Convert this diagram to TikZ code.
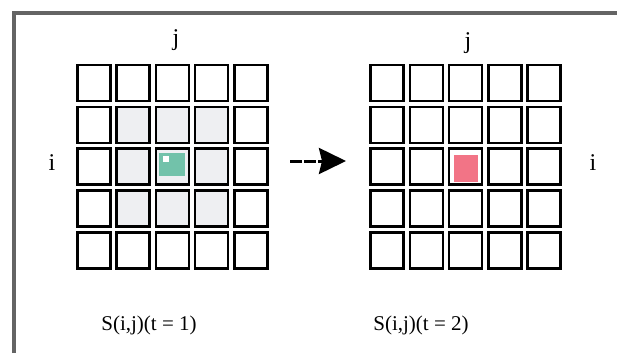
\documentclass[tikz,border=0pt]{standalone}
\usepackage{fontspec}
\setmainfont{Liberation Serif}
\usetikzlibrary{arrows.meta}
\definecolor{framegray}{HTML}{646464}
\definecolor{nbgray}{HTML}{EEEFF2}
\definecolor{tealc}{HTML}{72C2AA}
\definecolor{pinkc}{HTML}{F27486}
\tikzset{
  cell/.style={draw=black, line width=2.6pt, minimum width=33pt, minimum height=36pt, inner sep=0pt, fill=white},
  nbcell/.style={cell, fill=nbgray},
  lab/.style={font=\fontsize{24}{26}\selectfont, inner sep=0pt},
  caption/.style={font=\fontsize{21}{24}\selectfont, inner sep=0pt},
}
\begin{document}
\begin{tikzpicture}[x=1pt,y=-1pt]
\useasboundingbox (0,0) rectangle (617,353);
\fill[white] (0,0) rectangle (617,353);
% frame
\draw[framegray, line width=4pt] (13.5,353) -- (13.5,13) -- (617,13);
% left grid
\foreach \r in {1,...,5}{
  \foreach \c in {1,...,5}{
    \pgfmathsetmacro{\xx}{94+39.2*(\c-1)}
    \pgfmathsetmacro{\yy}{83+41.8*(\r-1)}
    \pgfmathtruncatemacro{\inner}{(\r>1)&&(\r<5)&&(\c>1)&&(\c<5)}
    \ifnum\inner=1
      \node[nbcell] (L\r\c) at (\xx,\yy) {};
    \else
      \node[cell] (L\r\c) at (\xx,\yy) {};
    \fi
  }
}
\fill[tealc] ([xshift=-13pt,yshift=14pt]L33.center) rectangle ([xshift=13pt,yshift=-9pt]L33.center);
\fill[white] ([xshift=-9pt,yshift=11pt]L33.center) rectangle ([xshift=-3pt,yshift=5pt]L33.center);
% right grid
\foreach \r in {1,...,5}{
  \foreach \c in {1,...,5}{
    \pgfmathsetmacro{\xx}{387+39.3*(\c-1)}
    \pgfmathsetmacro{\yy}{83+41.8*(\r-1)}
    \node[cell] (R\r\c) at (\xx,\yy) {};
  }
}
\fill[pinkc] ([xshift=-12pt,yshift=12pt]R33.center) rectangle ([xshift=12pt,yshift=-15pt]R33.center);
% labels
\node[lab] (jL) at (176,40) {j};
\node[lab] (jR) at (468,43) {j};
\node[lab] (iL) at (52,163) {i};
\node[lab] (iR) at (593,163) {i};
% arrow
\coordinate (aS) at (290,161);
\coordinate (aE) at (346,161);
\draw[line width=3pt, dash pattern=on 12pt off 2pt, -{Stealth[length=27pt,width=26pt,inset=3pt]}] (aS) -- (aE);
% captions
\node[caption] (cL) at (149,325) {S(i,j)(t = 1)};
\node[caption] (cR) at (421,325) {S(i,j)(t = 2)};
\end{tikzpicture}
\end{document}
